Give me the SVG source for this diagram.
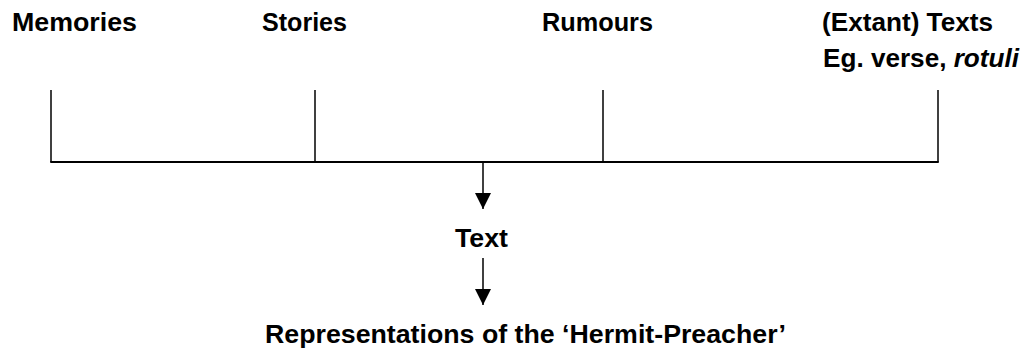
<svg xmlns="http://www.w3.org/2000/svg" width="1026" height="352" viewBox="0 0 1026 352">
<style>
text{font-family:"Liberation Sans",Arial,sans-serif;font-weight:bold;font-size:25px;fill:#000}
.ln{stroke:#000;stroke-width:1.5;fill:none}
.hl{stroke:#000;stroke-width:2;fill:none}
</style>
<defs>
<marker id="ah" markerWidth="16" markerHeight="16" refX="16" refY="8" orient="auto" markerUnits="userSpaceOnUse">
<path d="M0,0 L16,8 L0,16 Z" fill="#000"/>
</marker>
</defs>
<g id="memories"><text x="12" y="31" textLength="125" lengthAdjust="spacingAndGlyphs">Memories</text></g>
<g id="stories"><text x="262" y="31" textLength="85" lengthAdjust="spacingAndGlyphs">Stories</text></g>
<g id="rumours"><text x="542" y="31" textLength="111" lengthAdjust="spacingAndGlyphs">Rumours</text></g>
<g id="texts">
<text x="822" y="31" textLength="171" lengthAdjust="spacingAndGlyphs">(Extant) Texts</text>
<text x="823" y="66.5" textLength="196" lengthAdjust="spacingAndGlyphs">Eg. verse, <tspan font-style="italic">rotuli</tspan></text>
</g>
<g id="text"><text x="455" y="246.5" textLength="53" lengthAdjust="spacingAndGlyphs">Text</text></g>
<g id="representations"><text x="265" y="343" textLength="521" lengthAdjust="spacingAndGlyphs">Representations of the ‘Hermit-Preacher’</text></g>
<g id="connectors">
<line class="ln" x1="51" y1="90" x2="51" y2="162"/>
<line class="ln" x1="315" y1="90" x2="315" y2="162"/>
<line class="ln" x1="603" y1="90" x2="603" y2="162"/>
<line class="ln" x1="938" y1="90" x2="938" y2="162"/>
<line class="hl" x1="50.25" y1="162" x2="938.75" y2="162"/>
<line class="ln" x1="483" y1="162" x2="483" y2="209" marker-end="url(#ah)"/>
<line class="ln" x1="483" y1="258" x2="483" y2="305" marker-end="url(#ah)"/>
</g>
</svg>
